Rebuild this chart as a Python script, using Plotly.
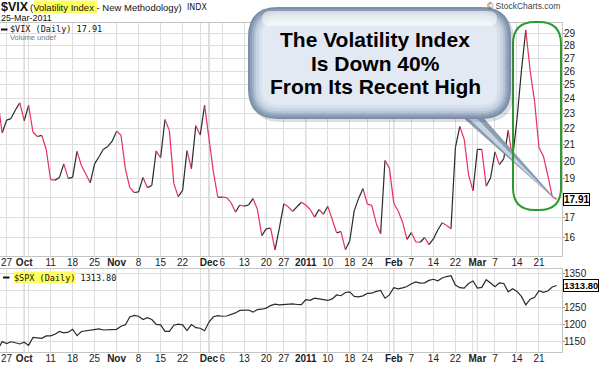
import math
import pandas as pd
import plotly.graph_objects as go

# ---------------- data ----------------
holidays = ["2010-11-25", "2010-12-24", "2011-01-17", "2011-02-21"]
dates = [d.strftime("%Y-%m-%d") for d in pd.bdate_range("2010-09-23", "2011-03-25")
         if d.strftime("%Y-%m-%d") not in holidays]

vix = [23.87, 21.71, 22.54, 22.64, 23.21, 23.70, 22.50, 23.53, 21.76, 21.49,
       21.56, 20.71, 18.96, 18.93, 19.07, 19.85, 19.03, 19.08, 20.58, 19.75,
       19.27, 18.78, 19.85, 20.26, 20.71, 20.88, 21.20, 21.83, 21.57, 19.56,
       18.52, 18.26, 18.29, 19.08, 18.52, 18.64, 20.61, 20.20, 22.58, 21.86,
       18.75, 18.04, 18.37, 20.63, 19.56, 22.18, 21.58, 23.54, 21.36, 19.39,
       18.01, 18.02, 17.99, 17.74, 17.25, 17.61, 17.55, 17.61, 17.94, 17.39,
       16.11, 16.43, 16.47, 15.45, 16.47, 17.67, 17.52, 17.28, 17.52, 17.75,
       17.61, 17.38, 17.00, 17.38, 17.14, 17.54, 16.89, 16.24, 16.30, 15.46,
       15.87, 17.31, 17.95, 18.47, 17.65, 17.59, 16.70, 16.18, 20.04, 19.60,
       17.70, 17.30, 16.75, 15.93, 16.25, 15.81, 15.80, 16.02, 15.69, 15.95,
       16.37, 16.72, 16.59, 16.43, 20.80, 22.13, 21.32, 19.22, 18.35, 20.70,
       20.70, 18.60, 19.06, 20.55, 19.80, 20.15, 21.88, 20.15, 22.60, 26.00,
       29.30, 26.00, 23.80, 20.80, 20.30, 19.20, 18.05, 17.91]

spx = [1124.83, 1148.67, 1142.16, 1147.70, 1144.73, 1141.20, 1146.24, 1137.03, 1160.75, 1159.97,
       1158.06, 1165.15, 1165.32, 1169.77, 1178.10, 1173.81, 1176.19, 1184.71, 1165.90, 1178.17,
       1180.26, 1183.08, 1185.62, 1185.64, 1182.45, 1183.78, 1183.26, 1184.38, 1193.57, 1197.96,
       1221.06, 1225.85, 1223.25, 1213.40, 1218.71, 1213.54, 1199.21, 1197.75, 1178.34, 1178.59,
       1196.69, 1199.73, 1197.84, 1180.73, 1198.35, 1189.40, 1187.76, 1180.55, 1206.07, 1221.53,
       1224.71, 1223.12, 1223.75, 1228.28, 1233.00, 1240.40, 1240.46, 1241.59, 1235.23, 1242.87,
       1243.91, 1247.08, 1254.60, 1258.84, 1256.77, 1257.54, 1258.51, 1259.78, 1257.88, 1257.64,
       1271.87, 1270.20, 1276.56, 1273.85, 1271.50, 1269.75, 1274.48, 1285.96, 1283.76, 1293.24,
       1295.02, 1281.92, 1280.26, 1283.35, 1290.84, 1291.18, 1296.63, 1299.54, 1276.34, 1286.12,
       1307.59, 1304.03, 1307.10, 1310.87, 1319.05, 1324.57, 1320.88, 1321.87, 1329.15, 1332.32,
       1328.01, 1336.32, 1340.43, 1343.01, 1315.44, 1307.40, 1306.10, 1319.88, 1327.22, 1306.33,
       1308.44, 1330.97, 1321.15, 1310.13, 1321.82, 1320.02, 1295.11, 1304.28, 1296.39, 1281.87,
       1256.88, 1273.72, 1279.21, 1298.38, 1293.77, 1297.54, 1309.66, 1313.80]

tick_label_dates = ["2010-09-27", "2010-10-01", "2010-10-11", "2010-10-18", "2010-10-25",
                    "2010-11-01", "2010-11-08", "2010-11-15", "2010-11-22", "2010-12-01",
                    "2010-12-06", "2010-12-13", "2010-12-20", "2010-12-27", "2011-01-03",
                    "2011-01-10", "2011-01-18", "2011-01-24", "2011-02-01", "2011-02-07",
                    "2011-02-14", "2011-02-22", "2011-03-01", "2011-03-07", "2011-03-14",
                    "2011-03-21"]
tick_labels = ["27", "<b>Oct</b>", "11", "18", "25", "<b>Nov</b>", "8", "15", "22", "<b>Dec</b>",
               "6", "13", "20", "27", "<b>2011</b>", "10", "18", "24", "<b>Feb</b>", "7",
               "14", "22", "<b>Mar</b>", "7", "14", "21"]

vix_ticks = [16, 17, 18, 19, 20, 21, 22, 23, 24, 25, 26, 27, 28, 29]
vix_tick_text = ["16", "17", "", "19", "20", "21", "22", "23", "24", "25", "26", "27", "28", "29"]
spx_ticks = [1150, 1200, 1250, 1300, 1350]
spx_tick_text = ["1150", "1200", "1250", "", "1350"]

callout_lines = ["The Volatility Index", "Is Down 40%", "From Its Recent High"]

assert len(dates) == len(vix) == len(spx)
n = len(dates)
idx = list(range(n))

# ---------------- derived ----------------
up_x, up_y, dn_x, dn_y = [], [], [], []
for k in range(n - 1):
    if vix[k + 1] >= vix[k]:
        up_x += [k, k + 1, None]; up_y += [vix[k], vix[k + 1], None]
    else:
        dn_x += [k, k + 1, None]; dn_y += [vix[k], vix[k + 1], None]

dts = pd.to_datetime(dates)
week_starts, month_starts = [], []
for k in range(n):
    if k == 0 or dts[k].isocalendar()[1] != dts[k - 1].isocalendar()[1]:
        week_starts.append(k)
    if k == 0 or dts[k].month != dts[k - 1].month:
        month_starts.append(k)
week_starts = week_starts[1:]
month_starts = month_starts[1:]
label_map = {dates.index(d): t for d, t in zip(tick_label_dates, tick_labels)}
grid_vals = sorted(set(week_starts) | set(month_starts))
grid_text = [label_map.get(v, "") for v in grid_vals]

# ---------------- geometry helpers (pixels -> paper) ----------------
W_PLOT = 562.0
TOP, BOT = 23.0, 352.0
def X(px): return px / W_PLOT
def Y(py): return (BOT - py) / (BOT - TOP)

def rrect(x0, y0, x1, y1, r):
    return (f"M{X(x0+r)},{Y(y0)} L{X(x1-r)},{Y(y0)} Q{X(x1)},{Y(y0)} {X(x1)},{Y(y0+r)} "
            f"L{X(x1)},{Y(y1-r)} Q{X(x1)},{Y(y1)} {X(x1-r)},{Y(y1)} "
            f"L{X(x0+r)},{Y(y1)} Q{X(x0)},{Y(y1)} {X(x0)},{Y(y1-r)} "
            f"L{X(x0)},{Y(y0+r)} Q{X(x0)},{Y(y0)} {X(x0+r)},{Y(y0)} Z")

top_dom = [Y(256), 1.0]
bot_dom = [0.0, Y(269)]

FONT = "Liberation Sans, Arial, sans-serif"
MONO = "DejaVu Sans Mono, monospace"

fig = go.Figure()
fig.add_trace(go.Scatter(x=up_x, y=up_y, mode="lines", line=dict(color="#2a2a2a", width=1.2),
                         xaxis="x", yaxis="y", hoverinfo="skip", showlegend=False))
fig.add_trace(go.Scatter(x=dn_x, y=dn_y, mode="lines", line=dict(color="#e6305a", width=1.2),
                         xaxis="x", yaxis="y", hoverinfo="skip", showlegend=False))
fig.add_trace(go.Scatter(x=idx, y=spx, mode="lines", line=dict(color="#2a2a2a", width=1.2),
                         xaxis="x2", yaxis="y2", hoverinfo="skip", showlegend=False))

xcommon = dict(range=[0.5, 128.23], tickvals=grid_vals, ticktext=grid_text, tickangle=0,
               showgrid=True, gridcolor="#dedede", gridwidth=1, zeroline=False,
               showline=True, linecolor="#c4c4c4", mirror=True, ticks="",
               tickfont=dict(family=FONT, size=10, color="#222"))
ycommon = dict(side="right", showgrid=True, gridcolor="#dedede", zeroline=False,
               showline=True, linecolor="#c4c4c4", mirror=True, ticks="outside",
               ticklen=2, tickcolor="#999", ticklabelstandoff=-3,
               tickfont=dict(family=FONT, size=10, color="#222"))

fig.update_layout(
    width=600, height=365, margin=dict(l=0, r=38, t=23, b=13),
    paper_bgcolor="white", plot_bgcolor="white", showlegend=False,
    xaxis=dict(domain=[0, 1], anchor="y", ticklabelstandoff=-3, **xcommon),
    xaxis2=dict(domain=[0, 1], anchor="y2", matches="x", ticklabelstandoff=-3, **xcommon),
    yaxis=dict(domain=top_dom, anchor="x", type="log",
               range=[math.log10(15.18), math.log10(29.9)],
               tickvals=vix_ticks, ticktext=vix_tick_text, **ycommon),
    yaxis2=dict(domain=bot_dom, anchor="x2", range=[1117.5, 1362.7],
                tickvals=spx_ticks, ticktext=spx_tick_text, **ycommon),
)

shapes = []
# darker month lines
for m in month_starts:
    for dom in (top_dom, bot_dom):
        shapes.append(dict(type="line", xref="x", yref="paper", x0=m, x1=m, y0=dom[0], y1=dom[1],
                           line=dict(color="#b8b8b8", width=1), layer="below"))
# yellow highlights
shapes.append(dict(type="rect", xref="paper", yref="paper", x0=X(34), x1=X(97.5), y0=Y(13), y1=Y(0.5),
                   fillcolor="#ffff5e", line=dict(width=0), layer="below"))
shapes.append(dict(type="rect", xref="paper", yref="paper", x0=X(13.5), x1=X(75.5), y0=Y(283), y1=Y(271.5),
                   fillcolor="#ffff5e", line=dict(width=0), layer="above"))
# legend dashes
shapes.append(dict(type="line", xref="paper", yref="paper", x0=X(1), x1=X(7.5), y0=Y(29.5), y1=Y(29.5),
                   line=dict(color="#111", width=2)))
shapes.append(dict(type="line", xref="paper", yref="paper", x0=X(3), x1=X(9.5), y0=Y(277.5), y1=Y(277.5),
                   line=dict(color="#111", width=2)))

# callout tail
tail = (f"M{X(455)},{Y(110)} L{X(476)},{Y(110)} L{X(554)},{Y(198)} Z")
shapes.append(dict(type="path", xref="paper", yref="paper", path=tail,
                   fillcolor="#8d9db4", line=dict(color="#7a8aa3", width=0.8)))
tail2 = (f"M{X(462)},{Y(112)} L{X(471)},{Y(112)} L{X(550)},{Y(195)} Z")
shapes.append(dict(type="path", xref="paper", yref="paper", path=tail2,
                   fillcolor="#c9d4e3", line=dict(width=0)))
# green highlight around the spike
shapes.append(dict(type="path", xref="paper", yref="paper", path=rrect(513, 22, 561, 210, 22),
                   fillcolor="rgba(0,0,0,0)", line=dict(color="#2c9a2c", width=2)))
# callout bubble: shadow + layered rim to mimic gradient
shapes.append(dict(type="path", xref="paper", yref="paper", path=rrect(251, 10, 514, 122, 30),
                   fillcolor="rgba(60,70,90,0.18)", line=dict(width=0)))
bubble_layers = [(0, "#7c8ea8"), (2, "#8c9db5"), (4, "#a0b0c6"), (6, "#b6c4d6"),
                 (8, "#c8d4e3"), (11, "#d7e0ec"), (14, "#e2e9f3")]
for inset, col in bubble_layers:
    shapes.append(dict(type="path", xref="paper", yref="paper",
                       path=rrect(248 + inset, 7 + inset, 511 - inset, 119 - inset, max(30 - inset, 8)),
                       fillcolor=col, line=dict(width=0)))
# glossy highlight
shapes.append(dict(type="path", xref="paper", yref="paper", path=rrect(262, 11, 497, 26, 8),
                   fillcolor="rgba(255,255,255,0.55)", line=dict(width=0)))
fig.update_layout(shapes=shapes)

ann = []
def text(px, py, s, size, family=FONT, color="#111", anchor="left", **kw):
    ann.append(dict(xref="paper", yref="paper", x=X(px), y=Y(py), text=s, showarrow=False,
                    xanchor=anchor, yanchor="middle", font=dict(family=family, size=size, color=color), **kw))

text(-1, 7, "<b>$VIX</b>", 12.5)
text(28, 7.5, "(Volatility Index - New Methodology)", 9.5)
text(185, 7.5, "INDX", 8, family="DejaVu Sans", color="#222")
text(-1, 18, "25-Mar-2011", 9)
text(562, 6, "© StockCharts.com", 8.5, color="#444", anchor="right")
text(8, 29.5, f"$VIX (Daily) {vix[-1]:.2f}", 8.5, family=MONO)
text(8, 37.5, "Volume undef", 7.5, color="#777")
text(12, 277.5, f"$SPX (Daily) {spx[-1]:.2f}", 8.5, family=MONO)

for s, py in zip(callout_lines, [39.5, 63.0, 86.5]):
    text(375, py, f"<b>{s}</b>", 21, color="#000", anchor="center")

# last-value boxes on the right axis
ann.append(dict(xref="paper", yref="y", x=X(563), y=math.log10(vix[-1]), text=f"<b>{vix[-1]:.2f}</b>",
                showarrow=False, xanchor="left", yanchor="middle", bgcolor="white",
                bordercolor="#000", borderwidth=1, borderpad=0,
                font=dict(family=FONT, size=10, color="#000")))
ann.append(dict(xref="paper", yref="y2", x=X(563), y=spx[-1], text=f"<b>{spx[-1]:.2f}</b>",
                showarrow=False, xanchor="left", yanchor="middle", bgcolor="white",
                bordercolor="#000", borderwidth=1, borderpad=0,
                font=dict(family=FONT, size=9.5, color="#000")))
fig.update_layout(annotations=ann)

fig.write_html("out.html",
               config={"displayModeBar": False, "staticPlot": True},
               post_script="document.body.style.margin='0px';document.body.style.overflow='hidden';")
